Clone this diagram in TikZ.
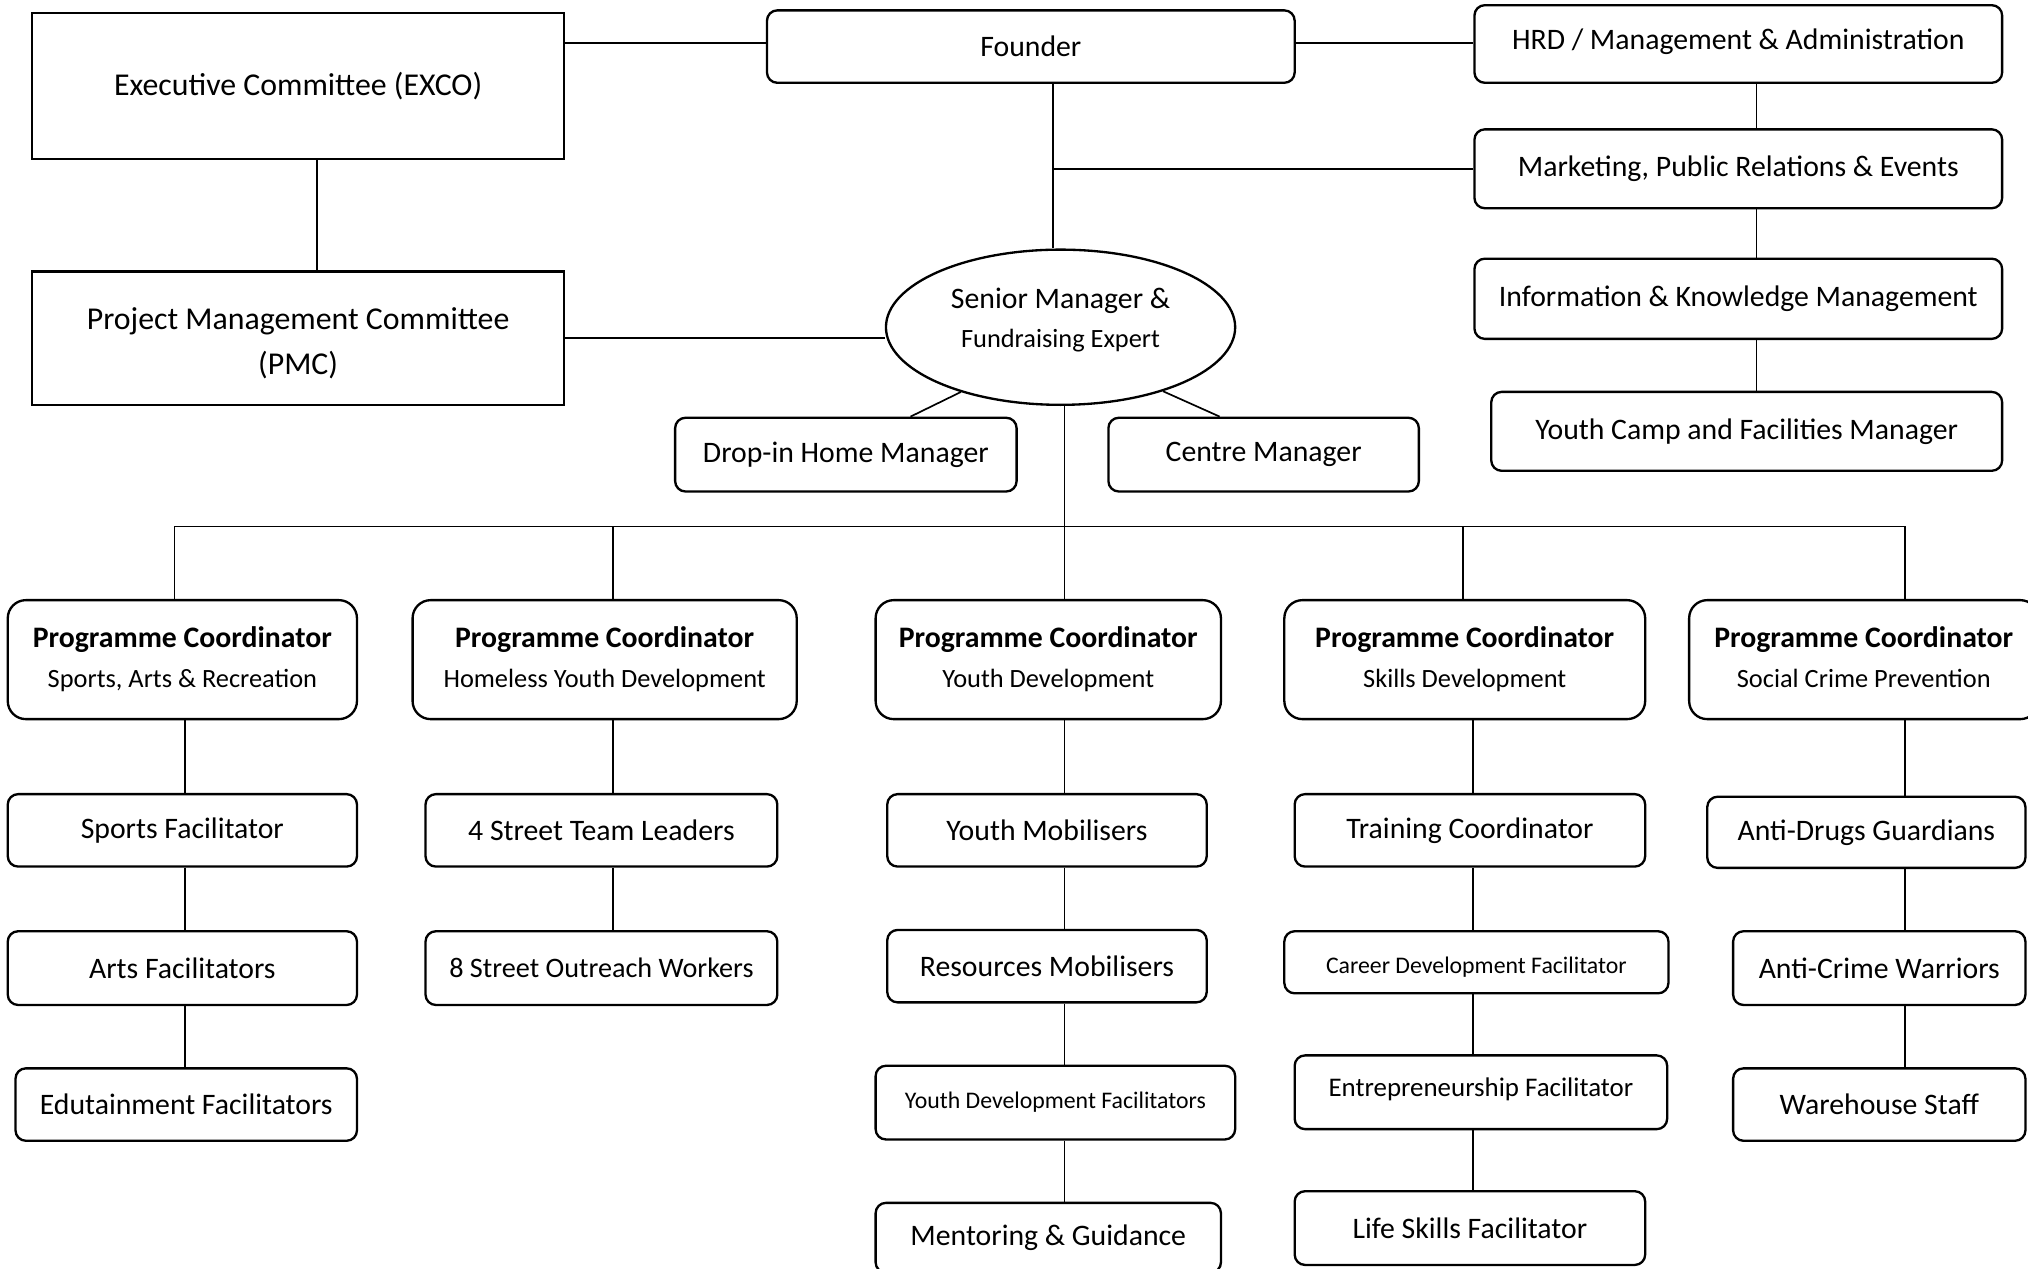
\documentclass[tikz,border=0pt]{standalone}
\usepackage{fontspec}
\setmainfont{Carlito}
\usetikzlibrary{positioning, shapes.geometric}
\definecolor{ink}{RGB}{0,0,0}
\newcommand{\orgbig}{\fontsize{12.3}{15}\selectfont}
\newcommand{\orgmain}{\fontsize{11.5}{14}\selectfont}
\newcommand{\orgsub}{\fontsize{10.2}{12}\selectfont}
\newcommand{\orgsmall}{\fontsize{9.2}{11}\selectfont}
\tikzset{
    orgbox/.style={
        rectangle,
        draw=ink,
        line width=0.9pt,
        rounded corners=4pt,
        align=center,
        inner sep=0pt,
        font=\orgmain,
        text=ink
    },
    committee/.style={orgbox, rounded corners=0pt, font=\orgbig},
    coordbox/.style={orgbox, rounded corners=7pt},
    smallbox/.style={orgbox, font=\orgsmall},
    seniornode/.style={
        ellipse,
        draw=ink,
        line width=0.9pt,
        align=center,
        inner sep=0pt,
        font=\orgmain,
        text=ink
    },
    link/.style={draw=ink, line width=0.65pt}
}

\begin{document}
\begin{tikzpicture}[x=0.5pt, y=-0.5pt]
\fill[white] (0,0) rectangle (1568,981);
\useasboundingbox (0,0) rectangle (1568,981);

% Line positions
\coordinate (ty) at (0,33);
\coordinate (ex) at (245,0);
\coordinate (fx) at (814,0);
\coordinate (rx) at (1358,0);
\coordinate (bus) at (0,407);
\coordinate (d1) at (135,0);
\coordinate (d2) at (474,0);
\coordinate (d3) at (823,0);
\coordinate (d4) at (1131,0);
\coordinate (d5) at (1473,0);
\coordinate (c1) at (143,0);
\coordinate (c2) at (474,0);
\coordinate (c3) at (823,0);
\coordinate (c4) at (1139,0);
\coordinate (c5) at (1473,0);

% Committees
\node[committee, minimum width=205.5pt, minimum height=56.5pt] (exco) at (230.5,66.5) {Executive Committee (EXCO)};
\node[committee, minimum width=205.5pt, minimum height=51.5pt] (pmc) at (230.5,261.5) {\rule{0pt}{12.5pt}Project Management Committee\\[2.5pt](PMC)};

% Founder and support units
\node[orgbox, minimum width=204pt, minimum height=28pt] (founder) at (797,36) {Founder};
\node[orgbox, minimum width=204pt, minimum height=30pt] (hrd) at (1344,34) {HRD / Management \& Administration\rule[-4pt]{0pt}{4pt}};
\node[orgbox, minimum width=204pt, minimum height=30.5pt] (mpr) at (1344,130.5) {Marketing, Public Relations \& Events};
\node[orgbox, minimum width=204pt, minimum height=31pt] (ikm) at (1344,231) {Information \& Knowledge Management};
\node[orgbox, minimum width=197.5pt, minimum height=30.5pt] (ycf) at (1350.5,333.5) {Youth Camp and Facilities Manager};

% Senior manager
\node[seniornode, minimum width=135pt, minimum height=60pt] (sm) at (820,253) {Senior Manager \&\\[1pt]{\orgsub Fundraising Expert\rule[-7.2pt]{0pt}{7.2pt}}};
\node[orgbox, minimum width=132pt, minimum height=28.5pt] (dropin) at (654,351.5) {Drop-in Home Manager};
\node[orgbox, minimum width=120pt, minimum height=28.5pt] (centre) at (977,351.5) {Centre Manager};

% Programme coordinators
\node[coordbox, minimum width=135pt, minimum height=46pt] (pc1) at (141,510) {\textbf{Programme Coordinator}\\[1.5pt]{\orgsub Sports, Arts \& Recreation}};
\node[coordbox, minimum width=148.5pt, minimum height=46pt] (pc2) at (467.5,510) {\textbf{Programme Coordinator}\\[1.5pt]{\orgsub Homeless Youth Development}};
\node[coordbox, minimum width=133.5pt, minimum height=46pt] (pc3) at (810.5,510) {\textbf{Programme Coordinator}\\[1.5pt]{\orgsub Youth Development}};
\node[coordbox, minimum width=139.5pt, minimum height=46pt] (pc4) at (1132.5,510) {\textbf{Programme Coordinator}\\[1.5pt]{\orgsub Skills Development}};
\node[coordbox, minimum width=135pt, minimum height=46pt] (pc5) at (1441,510) {\textbf{Programme Coordinator}\\[1.5pt]{\orgsub Social Crime Prevention\vphantom{p}}};

% Sports, arts & recreation
\node[orgbox, minimum width=135pt, minimum height=28pt] (sports) at (141,642) {Sports Facilitator};
\node[orgbox, minimum width=135pt, minimum height=28.5pt] (arts) at (141,748.5) {Arts Facilitators};
\node[orgbox, minimum width=132pt, minimum height=28pt] (edu) at (144,854) {Edutainment Facilitators};

% Homeless youth
\node[orgbox, minimum width=136pt, minimum height=28pt] (leaders) at (465,642) {4 Street Team Leaders};
\node[orgbox, minimum width=136pt, minimum height=28.5pt, font=\fontsize{10.9}{13}\selectfont] (outreach) at (465,748.5) {8 Street Outreach Workers};

% Youth development
\node[orgbox, minimum width=123.5pt, minimum height=28pt] (ymob) at (809.5,642) {Youth Mobilisers};
\node[orgbox, minimum width=123.5pt, minimum height=28pt] (rmob) at (809.5,747) {Resources Mobilisers};
\node[smallbox, minimum width=139pt, minimum height=28.5pt] (ydf) at (816,852.5) {Youth Development Facilitators};
\node[orgbox, minimum width=133.5pt, minimum height=27pt] (mentor) at (810.5,957) {Mentoring \& Guidance};

% Skills development
\node[orgbox, minimum width=135.5pt, minimum height=28pt] (train) at (1136.5,642) {Training Coordinator};
\node[smallbox, minimum width=148.5pt, minimum height=24pt] (career) at (1141.5,744) {\rule{0pt}{10.5pt}Career Development Facilitator};
\node[orgbox, minimum width=144pt, minimum height=28.5pt, font=\fontsize{10.4}{12}\selectfont] (entre) at (1145,844.5) {Entrepreneurship Facilitator\rule[-4pt]{0pt}{4pt}};
\node[orgbox, minimum width=135.5pt, minimum height=28.5pt] (life) at (1136.5,949.5) {Life Skills Facilitator};

% Social crime prevention
\node[orgbox, minimum width=123pt, minimum height=27.5pt] (drugs) at (1443,643.5) {Anti-Drugs Guardians};
\node[orgbox, minimum width=113pt, minimum height=28.5pt] (crime) at (1453,748.5) {Anti-Crime Warriors};
\node[orgbox, minimum width=113pt, minimum height=28pt] (store) at (1453,854) {Warehouse Staff};

% Top links
\draw[link] (exco.east |- ty) -- (founder.west |- ty);
\draw[link] (founder.east |- ty) -- (hrd.west |- ty);
\draw[link] (exco.south -| ex) -- (pmc.north -| ex);
\draw[link] (founder.south -| fx) -- (sm.north -| fx);
\draw[link] (mpr.west) -- (mpr.west -| fx);
\draw[link] (pmc.east) -- (pmc.east -| sm.west);

% Support column
\draw[link] (hrd.south -| rx) -- (mpr.north -| rx);
\draw[link] (mpr.south -| rx) -- (ikm.north -| rx);
\draw[link] (ikm.south -| rx) -- (ycf.north -| rx);

% Managers
\draw[link] (sm.213) -- (dropin.north -| 704,0);
\draw[link] (sm.328) -- (centre.north -| 943,0);

% Bus to coordinators
\draw[link] (sm.south -| d3) -- (pc3.north -| d3);
\draw[link] (pc1.north -| d1) |- (bus -| d5) -- (pc5.north -| d5);
\draw[link] (bus -| d2) -- (pc2.north -| d2);
\draw[link] (bus -| d4) -- (pc4.north -| d4);

% Columns
\draw[link] (pc1.south -| c1) -- (sports.north -| c1);
\draw[link] (sports.south -| c1) -- (arts.north -| c1);
\draw[link] (arts.south -| c1) -- (edu.north -| c1);

\draw[link] (pc2.south -| c2) -- (leaders.north -| c2);
\draw[link] (leaders.south -| c2) -- (outreach.north -| c2);

\draw[link] (pc3.south -| c3) -- (ymob.north -| c3);
\draw[link] (ymob.south -| c3) -- (rmob.north -| c3);
\draw[link] (rmob.south -| c3) -- (ydf.north -| c3);
\draw[link] (ydf.south -| c3) -- (mentor.north -| c3);

\draw[link] (pc4.south -| c4) -- (train.north -| c4);
\draw[link] (train.south -| c4) -- (career.north -| c4);
\draw[link] (career.south -| c4) -- (entre.north -| c4);
\draw[link] (entre.south -| c4) -- (life.north -| c4);

\draw[link] (pc5.south -| c5) -- (drugs.north -| c5);
\draw[link] (drugs.south -| c5) -- (crime.north -| c5);
\draw[link] (crime.south -| c5) -- (store.north -| c5);
\end{tikzpicture}
\end{document}
